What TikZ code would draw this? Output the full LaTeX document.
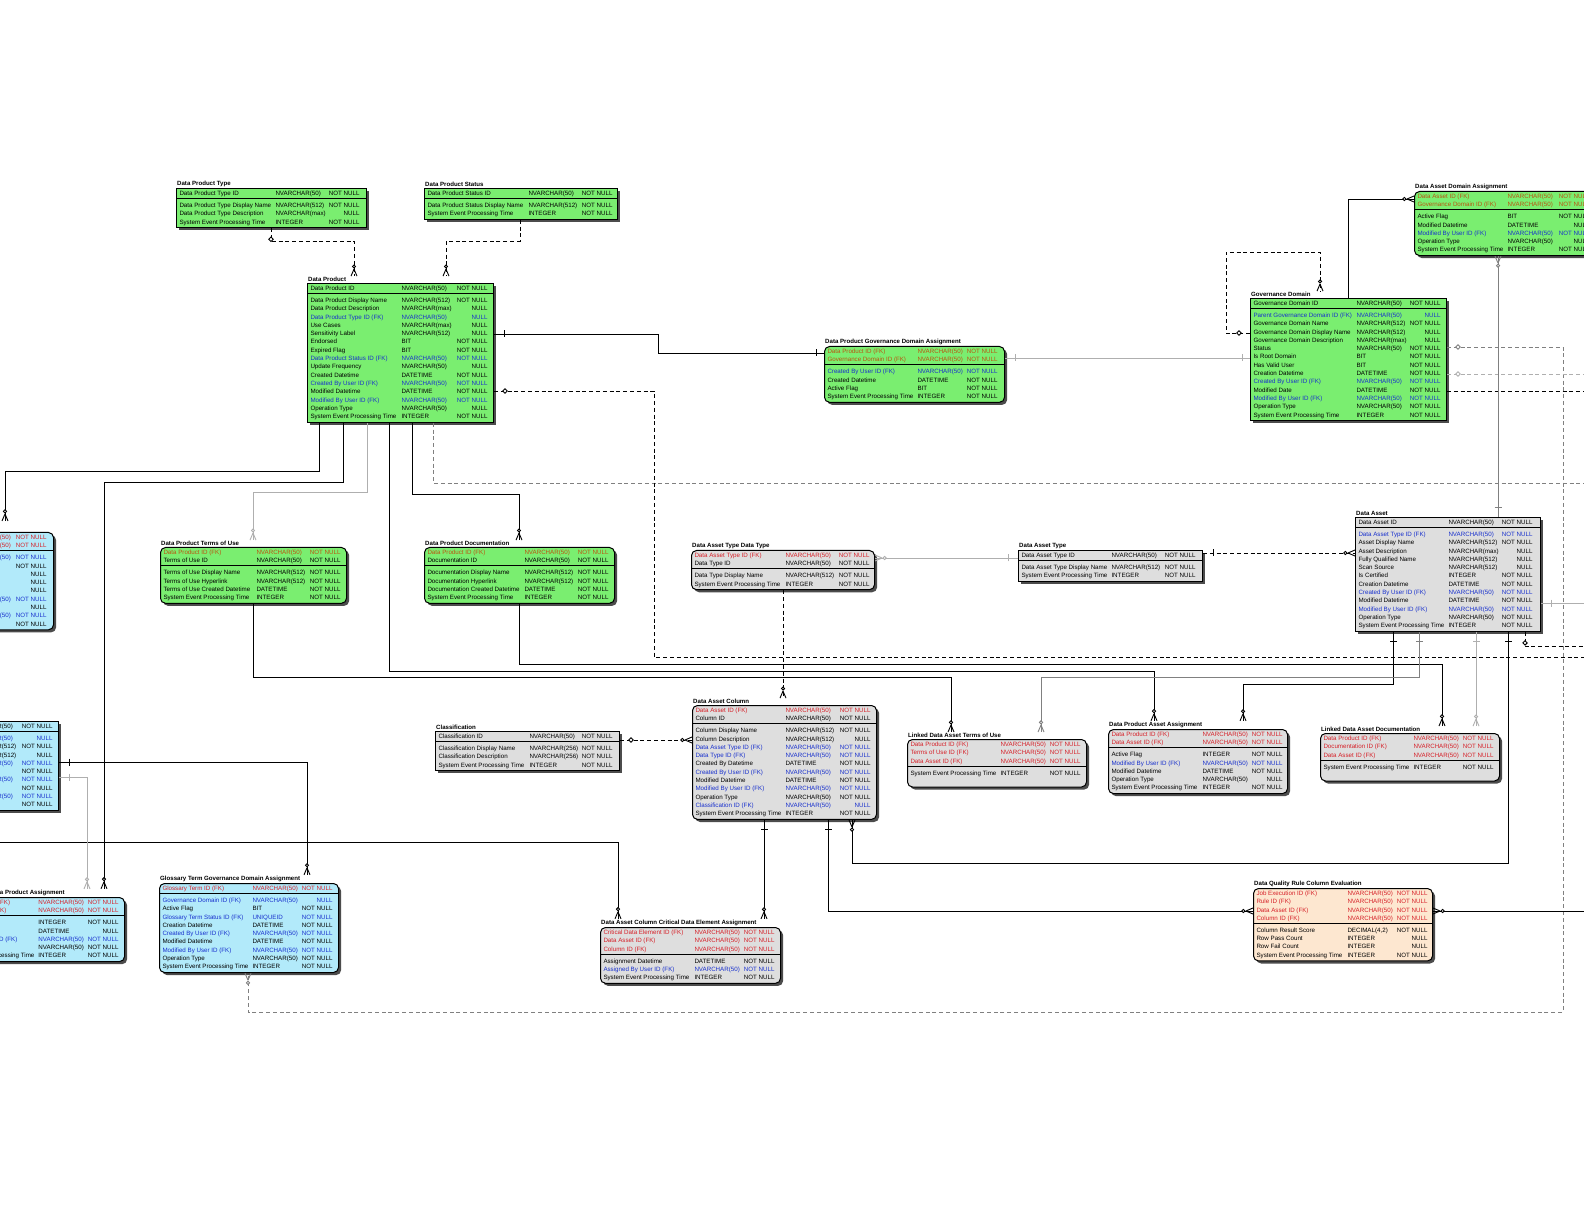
\documentclass[tikz,border=0pt]{standalone}
\usepackage{fontspec}
\setmainfont{Liberation Sans}
\usetikzlibrary{positioning}
\usetikzlibrary{calc}
\usetikzlibrary{shadows}
\usetikzlibrary{decorations.markings}

\definecolor{grn}{RGB}{122,238,112}
\definecolor{gry}{RGB}{222,222,222}
\definecolor{blu}{RGB}{178,234,250}
\definecolor{pch}{RGB}{253,231,208}
\definecolor{fkr}{RGB}{214,32,40}
\definecolor{fko}{RGB}{186,84,16}
\definecolor{fkb}{RGB}{24,48,205}
\definecolor{lineg}{RGB}{175,175,175}

\newlength\colA \newlength\colB \newlength\colC \newlength\padB
\newcommand{\rowc}[4]{\makebox[\colA][l]{\textcolor{#1}{#2}}&\makebox[\colB][l]{\textcolor{#1}{#3}}&\makebox[\colC][r]{\textcolor{#1}{#4}}\\}
\newcommand{\rowk}{\rowc{black}}
\newcommand{\rowr}{\rowc{fkr}}
\newcommand{\rowo}{\rowc{fko}}
\newcommand{\rowb}{\rowc{fkb}}
% left, type column, end of null column, right (all in px), key rows, other rows
\newcommand{\ertab}[6]{%
  \setlength\colA{\dimexpr(#2pt-#1pt)/2-1.5pt\relax}%
  \setlength\colC{18pt}%
  \setlength\colB{\dimexpr(#3pt-#2pt)/2-18pt\relax}%
  \setlength\padB{\dimexpr(#4pt-#3pt)/2\relax}%
  \begin{tabular}{@{\hspace{1.5pt}}l@{}l@{}l@{\hspace{\padB}}}
  \noalign{\vskip0.6pt}#5\hline\noalign{\vskip1.4pt}#6\noalign{\vskip0.6pt}
  \end{tabular}}

\tikzset{tbl/.style={draw, line width=0.5pt, inner sep=0pt, anchor=north west,
  font=\fontsize{3.1}{4.15}\selectfont,
  drop shadow={shadow xshift=1.3pt, shadow yshift=-1.3pt, fill=black!70, opacity=1}}}
\tikzset{dep/.style={tbl, rounded corners=2.5pt}}
\tikzset{ttl/.style={inner sep=0.4pt, font=\bfseries\fontsize{3.05}{3.6}\selectfont}}
\tikzset{rel/.style={line width=0.45pt}}
\tikzset{dsh/.style={dash pattern=on 2pt off 1.4pt}}
\tikzset{crow/.style={postaction={decorate, decoration={markings, mark=at position 0.9999 with {
  \draw[solid] (-7,0) -- (0,3) (-7,0) -- (0,-3);
  \draw[solid, fill=white] (-9.6,0) circle (1.6);}}}}}
\tikzset{tickA/.style={postaction={decorate, decoration={markings, mark=at position 5pt with {
  \draw[solid] (0,-3.5) -- (0,3.5);}}}}}
\tikzset{tickB/.style={postaction={decorate, decoration={markings, mark=at position -4pt with {
  \draw[solid] (0,-3.5) -- (0,3.5);}}}}}
\tikzset{dia/.style={postaction={decorate, decoration={markings, mark=at position 5.5pt with {
  \draw[solid, fill=white] (-2.2,0) -- (0,2.2) -- (2.2,0) -- (0,-2.2) -- cycle;}}}}}

\begin{document}
\begin{tikzpicture}[x=0.5pt, y=-0.5pt]
\useasboundingbox (0,0) rectangle (1584,1224);
\clip (0,0) rectangle (1584,1224);
\fill[white] (0,0) rectangle (1584,1224);

%%% Data product side:

\node[tbl, fill=grn] (ptype) at (176,188) {\ertab{176}{275}{359}{366}
 {\rowk{Data Product Type ID}{NVARCHAR(50)}{NOT NULL}}
 {\rowk{Data Product Type Display Name}{NVARCHAR(512)}{NOT NULL}
  \rowk{Data Product Type Description}{NVARCHAR(max)}{NULL}
  \rowk{System Event Processing Time}{INTEGER}{NOT NULL}}};
\node[ttl, above right=0pt and 0pt of ptype.north west] (ptypeT) {Data Product Type};

\node[tbl, fill=grn] (pstat) at (424,188) {\ertab{424}{528}{612}{617}
 {\rowk{Data Product Status ID}{NVARCHAR(50)}{NOT NULL}}
 {\rowk{Data Product Status Display Name}{NVARCHAR(512)}{NOT NULL}
  \rowk{System Event Processing Time}{INTEGER}{NOT NULL}}};
\node[ttl, above right=0pt and 0pt of pstat.north west] (pstatT) {Data Product Status};

\node[tbl, fill=grn] (prod) at (307,283) {\ertab{307}{401}{487}{493}
 {\rowk{Data Product ID}{NVARCHAR(50)}{NOT NULL}}
 {\rowk{Data Product Display Name}{NVARCHAR(512)}{NOT NULL}
  \rowk{Data Product Description}{NVARCHAR(max)}{NULL}
  \rowb{Data Product Type ID (FK)}{NVARCHAR(50)}{NULL}
  \rowk{Use Cases}{NVARCHAR(max)}{NULL}
  \rowk{Sensitivity Label}{NVARCHAR(512)}{NULL}
  \rowk{Endorsed}{BIT}{NOT NULL}
  \rowk{Expired Flag}{BIT}{NOT NULL}
  \rowb{Data Product Status ID (FK)}{NVARCHAR(50)}{NOT NULL}
  \rowk{Update Frequency}{NVARCHAR(50)}{NULL}
  \rowk{Created Datetime}{DATETIME}{NOT NULL}
  \rowb{Created By User ID (FK)}{NVARCHAR(50)}{NOT NULL}
  \rowk{Modified Datetime}{DATETIME}{NOT NULL}
  \rowb{Modified By User ID (FK)}{NVARCHAR(50)}{NOT NULL}
  \rowk{Operation Type}{NVARCHAR(50)}{NULL}
  \rowk{System Event Processing Time}{INTEGER}{NOT NULL}}};
\node[ttl, above right=0pt and 0pt of prod.north west] (prodT) {Data Product};

\node[dep, fill=grn] (pgda) at (824,346) {\ertab{824}{917}{997}{1004}
 {\rowo{Data Product ID (FK)}{NVARCHAR(50)}{NOT NULL}
  \rowo{Governance Domain ID (FK)}{NVARCHAR(50)}{NOT NULL}}
 {\rowb{Created By User ID (FK)}{NVARCHAR(50)}{NOT NULL}
  \rowk{Created Datetime}{DATETIME}{NOT NULL}
  \rowk{Active Flag}{BIT}{NOT NULL}
  \rowk{System Event Processing Time}{INTEGER}{NOT NULL}}};
\node[ttl, above right=0pt and 0pt of pgda.north west] (pgdaT) {Data Product Governance Domain Assignment};

\node[tbl, fill=grn] (gdom) at (1250,298) {\ertab{1250}{1356}{1440}{1446}
 {\rowk{Governance Domain ID}{NVARCHAR(50)}{NOT NULL}}
 {\rowb{Parent Governance Domain ID (FK)}{NVARCHAR(50)}{NULL}
  \rowk{Governance Domain Name}{NVARCHAR(512)}{NOT NULL}
  \rowk{Governance Domain Display Name}{NVARCHAR(512)}{NULL}
  \rowk{Governance Domain Description}{NVARCHAR(max)}{NULL}
  \rowk{Status}{NVARCHAR(50)}{NOT NULL}
  \rowk{Is Root Domain}{BIT}{NOT NULL}
  \rowk{Has Valid User}{BIT}{NOT NULL}
  \rowk{Creation Datetime}{DATETIME}{NOT NULL}
  \rowb{Created By User ID (FK)}{NVARCHAR(50)}{NOT NULL}
  \rowk{Modified Date}{DATETIME}{NOT NULL}
  \rowb{Modified By User ID (FK)}{NVARCHAR(50)}{NOT NULL}
  \rowk{Operation Type}{NVARCHAR(50)}{NOT NULL}
  \rowk{System Event Processing Time}{INTEGER}{NOT NULL}}};
\node[ttl, above right=0pt and 0pt of gdom.north west] (gdomT) {Governance Domain};

\node[dep, fill=grn] (adom) at (1414,191) {\ertab{1414}{1507}{1589}{1595}
 {\rowo{Data Asset ID (FK)}{NVARCHAR(50)}{NOT NULL}
  \rowo{Governance Domain ID (FK)}{NVARCHAR(50)}{NOT NULL}}
 {\rowk{Active Flag}{BIT}{NOT NULL}
  \rowk{Modified Datetime}{DATETIME}{NULL}
  \rowb{Modified By User ID (FK)}{NVARCHAR(50)}{NOT NULL}
  \rowk{Operation Type}{NVARCHAR(50)}{NULL}
  \rowk{System Event Processing Time}{INTEGER}{NOT NULL}}};
\node[ttl, above right=0pt and 0pt of adom.north west] (adomT) {Data Asset Domain Assignment};

\node[dep, fill=grn] (ptou) at (160,547) {\ertab{160}{256}{340}{346}
 {\rowo{Data Product ID (FK)}{NVARCHAR(50)}{NOT NULL}
  \rowk{Terms of Use ID}{NVARCHAR(50)}{NOT NULL}}
 {\rowk{Terms of Use Display Name}{NVARCHAR(512)}{NOT NULL}
  \rowk{Terms of Use Hyperlink}{NVARCHAR(512)}{NOT NULL}
  \rowk{Terms of Use Created Datetime}{DATETIME}{NOT NULL}
  \rowk{System Event Processing Time}{INTEGER}{NOT NULL}}};
\node[ttl, above right=0pt and 0pt of ptou.north west] (ptouT) {Data Product Terms of Use};

\node[dep, fill=grn] (pdoc) at (424,547) {\ertab{424}{524}{608}{614}
 {\rowo{Data Product ID (FK)}{NVARCHAR(50)}{NOT NULL}
  \rowk{Documentation ID}{NVARCHAR(50)}{NOT NULL}}
 {\rowk{Documentation Display Name}{NVARCHAR(512)}{NOT NULL}
  \rowk{Documentation Hyperlink}{NVARCHAR(512)}{NOT NULL}
  \rowk{Documentation Created Datetime}{DATETIME}{NOT NULL}
  \rowk{System Event Processing Time}{INTEGER}{NOT NULL}}};
\node[ttl, above right=0pt and 0pt of pdoc.north west] (pdocT) {Data Product Documentation};

%%% Data asset side:

\node[dep, fill=gry] (atdt) at (691,550) {\ertab{691}{785}{869}{874}
 {\rowr{Data Asset Type ID (FK)}{NVARCHAR(50)}{NOT NULL}
  \rowk{Data Type ID}{NVARCHAR(50)}{NOT NULL}}
 {\rowk{Data Type Display Name}{NVARCHAR(512)}{NOT NULL}
  \rowk{System Event Processing Time}{INTEGER}{NOT NULL}}};
\node[ttl, above right=0pt and 0pt of atdt.north west] (atdtT) {Data Asset Type Data Type};

\node[tbl, fill=gry] (atype) at (1018,550) {\ertab{1018}{1111}{1195}{1202}
 {\rowk{Data Asset Type ID}{NVARCHAR(50)}{NOT NULL}}
 {\rowk{Data Asset Type Display Name}{NVARCHAR(512)}{NOT NULL}
  \rowk{System Event Processing Time}{INTEGER}{NOT NULL}}};
\node[ttl, above right=0pt and 0pt of atype.north west] (atypeT) {Data Asset Type};

\node[tbl, fill=gry] (asset) at (1355,517) {\ertab{1355}{1448}{1532}{1540}
 {\rowk{Data Asset ID}{NVARCHAR(50)}{NOT NULL}}
 {\rowb{Data Asset Type ID (FK)}{NVARCHAR(50)}{NOT NULL}
  \rowk{Asset Display Name}{NVARCHAR(512)}{NOT NULL}
  \rowk{Asset Description}{NVARCHAR(max)}{NULL}
  \rowk{Fully Qualified Name}{NVARCHAR(512)}{NULL}
  \rowk{Scan Source}{NVARCHAR(512)}{NULL}
  \rowk{Is Certified}{INTEGER}{NOT NULL}
  \rowk{Creation Datetime}{DATETIME}{NOT NULL}
  \rowb{Created By User ID (FK)}{NVARCHAR(50)}{NOT NULL}
  \rowk{Modified Datetime}{DATETIME}{NOT NULL}
  \rowb{Modified By User ID (FK)}{NVARCHAR(50)}{NOT NULL}
  \rowk{Operation Type}{NVARCHAR(50)}{NOT NULL}
  \rowk{System Event Processing Time}{INTEGER}{NOT NULL}}};
\node[ttl, above right=0pt and 0pt of asset.north west] (assetT) {Data Asset};

\node[tbl, fill=gry] (cls) at (435,731) {\ertab{435}{529}{612}{619}
 {\rowk{Classification ID}{NVARCHAR(50)}{NOT NULL}}
 {\rowk{Classification Display Name}{NVARCHAR(256)}{NOT NULL}
  \rowk{Classification Description}{NVARCHAR(256)}{NOT NULL}
  \rowk{System Event Processing Time}{INTEGER}{NOT NULL}}};
\node[ttl, above right=0pt and 0pt of cls.north west] (clsT) {Classification};

\node[dep, fill=gry] (col) at (692,705) {\ertab{692}{785}{870}{876}
 {\rowr{Data Asset ID (FK)}{NVARCHAR(50)}{NOT NULL}
  \rowk{Column ID}{NVARCHAR(50)}{NOT NULL}}
 {\rowk{Column Display Name}{NVARCHAR(512)}{NOT NULL}
  \rowk{Column Description}{NVARCHAR(512)}{NULL}
  \rowb{Data Asset Type ID (FK)}{NVARCHAR(50)}{NOT NULL}
  \rowb{Data Type ID (FK)}{NVARCHAR(50)}{NOT NULL}
  \rowk{Created By Datetime}{DATETIME}{NOT NULL}
  \rowb{Created By User ID (FK)}{NVARCHAR(50)}{NOT NULL}
  \rowk{Modified Datetime}{DATETIME}{NOT NULL}
  \rowb{Modified By User ID (FK)}{NVARCHAR(50)}{NOT NULL}
  \rowk{Operation Type}{NVARCHAR(50)}{NOT NULL}
  \rowb{Classification ID (FK)}{NVARCHAR(50)}{NULL}
  \rowk{System Event Processing Time}{INTEGER}{NOT NULL}}};
\node[ttl, above right=0pt and 0pt of col.north west] (colT) {Data Asset Column};

\node[dep, fill=gry] (latou) at (907,739) {\ertab{907}{1000}{1080}{1086}
 {\rowr{Data Product ID (FK)}{NVARCHAR(50)}{NOT NULL}
  \rowr{Terms of Use ID (FK)}{NVARCHAR(50)}{NOT NULL}
  \rowr{Data Asset ID (FK)}{NVARCHAR(50)}{NOT NULL}}
 {\rowk{System Event Processing Time}{INTEGER}{NOT NULL}
  \rowk{}{}{}}};
\node[ttl, above right=0pt and 0pt of latou.north west] (latouT) {Linked Data Asset Terms of Use};

\node[dep, fill=gry] (paa) at (1108,729) {\ertab{1108}{1202}{1282}{1287}
 {\rowr{Data Product ID (FK)}{NVARCHAR(50)}{NOT NULL}
  \rowr{Data Asset ID (FK)}{NVARCHAR(50)}{NOT NULL}}
 {\rowk{Active Flag}{INTEGER}{NOT NULL}
  \rowb{Modified By User ID (FK)}{NVARCHAR(50)}{NOT NULL}
  \rowk{Modified Datetime}{DATETIME}{NOT NULL}
  \rowk{Operation Type}{NVARCHAR(50)}{NULL}
  \rowk{System Event Processing Time}{INTEGER}{NOT NULL}}};
\node[ttl, above right=0pt and 0pt of paa.north west] (paaT) {Data Product Asset Assignment};

\node[dep, fill=gry] (ladoc) at (1320,733) {\ertab{1320}{1413}{1493}{1499}
 {\rowr{Data Product ID (FK)}{NVARCHAR(50)}{NOT NULL}
  \rowr{Documentation ID (FK)}{NVARCHAR(50)}{NOT NULL}
  \rowr{Data Asset ID (FK)}{NVARCHAR(50)}{NOT NULL}}
 {\rowk{System Event Processing Time}{INTEGER}{NOT NULL}
  \rowk{}{}{}}};
\node[ttl, above right=0pt and 0pt of ladoc.north west] (ladocT) {Linked Data Asset Documentation};

\node[dep, fill=gry] (cde) at (600,927) {\ertab{600}{694}{774}{780}
 {\rowr{Critical Data Element ID (FK)}{NVARCHAR(50)}{NOT NULL}
  \rowr{Data Asset ID (FK)}{NVARCHAR(50)}{NOT NULL}
  \rowr{Column ID (FK)}{NVARCHAR(50)}{NOT NULL}}
 {\rowk{Assignment Datetime}{DATETIME}{NOT NULL}
  \rowb{Assigned By User ID (FK)}{NVARCHAR(50)}{NOT NULL}
  \rowk{System Event Processing Time}{INTEGER}{NOT NULL}}};
\node[ttl, above right=0pt and 0pt of cde.north west] (cdeT) {Data Asset Column Critical Data Element Assignment};

\node[dep, fill=pch] (dqr) at (1253,888) {\ertab{1253}{1347}{1427}{1432}
 {\rowr{Job Execution ID (FK)}{NVARCHAR(50)}{NOT NULL}
  \rowr{Rule ID (FK)}{NVARCHAR(50)}{NOT NULL}
  \rowr{Data Asset ID (FK)}{NVARCHAR(50)}{NOT NULL}
  \rowr{Column ID (FK)}{NVARCHAR(50)}{NOT NULL}}
 {\rowk{Column Result Score}{DECIMAL(4,2)}{NOT NULL}
  \rowk{Row Pass Count}{INTEGER}{NULL}
  \rowk{Row Fail Count}{INTEGER}{NULL}
  \rowk{System Event Processing Time}{INTEGER}{NOT NULL}}};
\node[ttl, above right=0pt and 0pt of dqr.north west] (dqrT) {Data Quality Rule Column Evaluation};

%%% Glossary side (cut by the left edge):

\node[dep, fill=blu] (gl1) at (-150,532) {\ertab{-150}{-35}{46}{53}
 {\rowr{}{NVARCHAR(50)}{NOT NULL}
  \rowr{}{NVARCHAR(50)}{NOT NULL}}
 {\rowb{}{NVARCHAR(50)}{NOT NULL}
  \rowk{}{}{NOT NULL}
  \rowk{}{}{NULL}
  \rowk{}{}{NULL}
  \rowk{}{}{NULL}
  \rowb{}{NVARCHAR(50)}{NOT NULL}
  \rowk{}{}{NULL}
  \rowb{}{NVARCHAR(50)}{NOT NULL}
  \rowk{}{}{NOT NULL}}};

\node[tbl, fill=blu] (gl2) at (-150,721) {\ertab{-150}{-33}{52}{58}
 {\rowk{}{NVARCHAR(50)}{NOT NULL}}
 {\rowb{}{NVARCHAR(50)}{NULL}
  \rowk{}{NVARCHAR(512)}{NOT NULL}
  \rowk{}{NVARCHAR(512)}{NULL}
  \rowb{}{NVARCHAR(50)}{NOT NULL}
  \rowk{}{}{NOT NULL}
  \rowb{}{NVARCHAR(50)}{NOT NULL}
  \rowk{}{}{NOT NULL}
  \rowb{}{NVARCHAR(50)}{NOT NULL}
  \rowk{}{}{NOT NULL}}};

\node[dep, fill=blu] (gl3) at (-55,897) {\ertab{-55}{38}{118}{124}
 {\rowr{Glossary Term ID (FK)}{NVARCHAR(50)}{NOT NULL}
  \rowr{Data Product ID (FK)}{NVARCHAR(50)}{NOT NULL}}
 {\rowk{Active Flag}{INTEGER}{NOT NULL}
  \rowk{Modified Datetime}{DATETIME}{NULL}
  \rowb{Modified By User ID (FK)}{NVARCHAR(50)}{NOT NULL}
  \rowk{}{NVARCHAR(50)}{NOT NULL}
  \rowk{System Event Processing Time}{INTEGER}{NOT NULL}}};
\node[ttl, above right=0pt and 0pt of gl3.north west] (gl3T) {Glossary Term Data Product Assignment};

\node[dep, fill=blu] (ggda) at (159,883) {\ertab{159}{252}{332}{338}
 {\rowr{Glossary Term ID (FK)}{NVARCHAR(50)}{NOT NULL}}
 {\rowb{Governance Domain ID (FK)}{NVARCHAR(50)}{NULL}
  \rowk{Active Flag}{BIT}{NOT NULL}
  \rowb{Glossary Term Status ID (FK)}{UNIQUEID}{NOT NULL}
  \rowk{Creation Datetime}{DATETIME}{NOT NULL}
  \rowb{Created By User ID (FK)}{NVARCHAR(50)}{NOT NULL}
  \rowk{Modified Datetime}{DATETIME}{NOT NULL}
  \rowb{Modified By User ID (FK)}{NVARCHAR(50)}{NOT NULL}
  \rowk{Operation Type}{NVARCHAR(50)}{NOT NULL}
  \rowk{System Event Processing Time}{INTEGER}{NOT NULL}}};
\node[ttl, above right=0pt and 0pt of ggda.north west] (ggdaT) {Glossary Term Governance Domain Assignment};

%%% Free ends past the page edge:
\coordinate (eR1) at (1600,374);
\coordinate (eR2) at (1600,391);
\coordinate (eR3) at (1600,483);
\coordinate (eR4) at (1600,657);
\coordinate (eR5) at (1600,603);
\coordinate (eR6) at (1600,646);
\coordinate (eR7) at (1600,911);
\coordinate (eL1) at (-10,842);

%%% Relationships of Data Product:
\draw[rel, dsh, dia, crow] (271,0 |- ptype.south) -- (271,241) -- (354,241) -- (354,0 |- prodT.north);
\draw[rel, dsh, crow] (520,0 |- pstat.south) -- (520,241) -- (446,241) -- (446,0 |- prodT.north);
\draw[rel, tickA, tickB] (prod.east |- 0,334) -- (658,334) -- (658,353) -- (pgda.west |- 0,353);
\draw[rel, crow] (319,0 |- prod.south) -- (319,471) -- (5,471) -- ($(5,0 |- gl1.north)+(0,-11)$);
\draw[rel, crow] (343,0 |- prod.south) -- (343,482) -- (104,482) -- (104,0 |- gl3T.north);
\draw[rel, draw=lineg, crow] (367,0 |- prod.south) -- (367,492) -- (253,492) -- (253,0 |- ptouT.north);
\draw[rel, crow] (389,0 |- prod.south) -- (389,671) -- (1154,671) -- (1154,0 |- paaT.north);
\draw[rel, crow] (412,0 |- prod.south) -- (412,494) -- (519,494) -- (519,0 |- pdocT.north);
\draw[rel, dsh, draw=gray] (433,0 |- prod.south) -- (433,483) -- (eR3);
\draw[rel, dsh, dia] (prod.east |- 0,391) -- (654,391) -- (654,657) -- (eR4);
\draw[rel, crow] (253,0 |- ptou.south) -- (253,677) -- (951,677) -- (951,0 |- latouT.north);
\draw[rel, crow] (519,0 |- pdoc.south) -- (519,664) -- (1442,664) -- (1442,0 |- ladocT.north);

%%% Governance Domain:
\draw[rel, draw=lineg, tickA, tickB] (pgda.east |- 0,358) -- (gdom.west |- 0,358);
\draw[rel, dsh, dia, crow] (gdom.west |- 0,333) -- (1226,333) -- (1226,252) -- (1320,252) -- (1320,0 |- gdomT.north);
\draw[rel, crow] (1348,0 |- gdom.north) -- (1348,199) -- (adom.west |- 0,199);
\draw[rel, dsh, draw=gray, dia, crow] (gdom.east |- 0,347) -- (1563,347) -- (1563,1012) -- (248,1012) -- (248,0 |- ggda.south);
\draw[rel, dsh, draw=lineg, dia] (gdom.east |- 0,374) -- (eR1);
\draw[rel, dsh] (gdom.east |- 0,391) -- (eR2);

%%% Data Asset:
\draw[rel, draw=gray, tickA, crow] (1498,0 |- asset.north) -- (1498,0 |- adom.south);
\draw[rel, draw=lineg, tickA, crow] (atype.west |- 0,558) -- (atdt.east |- 0,558);
\draw[rel, dsh, tickA, crow] (atype.east |- 0,553) -- (asset.west |- 0,553);
\draw[rel, dsh, crow] (783,0 |- atdt.south) -- (783,0 |- colT.north);
\draw[rel, dsh, dia, crow] (cls.east |- 0,740) -- (col.west |- 0,740);
\draw[rel, tickA, crow] (1393,0 |- asset.south) -- (1393,684) -- (1243,684) -- (1243,0 |- paaT.north);
\draw[rel, draw=gray, tickA, crow] (1419,0 |- asset.south) -- (1419,677) -- (1041,677) -- (1041,0 |- latouT.north);
\draw[rel, draw=lineg, tickA, crow] (1476,0 |- asset.south) -- (1476,0 |- ladocT.north);
\draw[rel, tickA, crow] (1508,0 |- asset.south) -- (1508,863) -- (852,863) -- (852,0 |- col.south);
\draw[rel, draw=lineg, tickA] (asset.east |- 0,603) -- (eR5);
\draw[rel, dsh, dia] (1525,0 |- asset.south) -- (1525,646) -- (eR6);

%%% Data Asset Column:
\draw[rel, tickA, crow] (828,0 |- col.south) -- (828,911) -- (dqr.west |- 0,911);
\draw[rel, crow] (eR7) -- (dqr.east |- 0,911);
\draw[rel, tickA, crow] (764,0 |- col.south) -- (764,0 |- cdeT.north);
\draw[rel, crow] (eL1) -- (618,842) -- (618,0 |- cdeT.north);

%%% Glossary:
\draw[rel, tickA, crow] (gl2.east |- 0,762) -- (307,762) -- (307,0 |- ggdaT.north);
\draw[rel, draw=lineg, tickA, crow] (gl2.east |- 0,777) -- (87,777) -- (87,0 |- gl3T.north);

\end{tikzpicture}
\end{document}
